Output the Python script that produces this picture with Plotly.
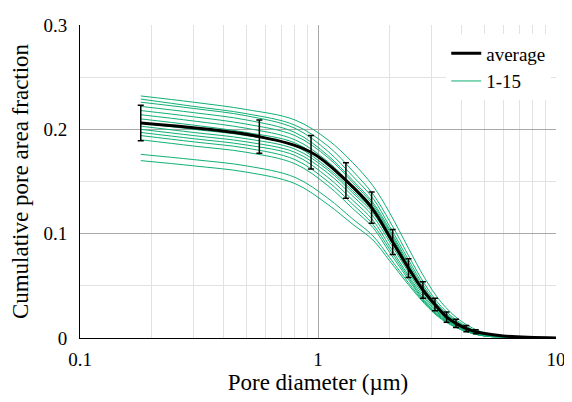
import plotly.graph_objects as go

# pore diameter grid for the 15 individual samples (um)
diam = [0.18, 0.3, 0.5, 0.8, 1.1, 1.4, 1.7, 2.0, 2.4, 2.8, 3.3, 4, 5, 7, 10]

samples = [
    [0.232, 0.226, 0.219, 0.209, 0.190, 0.168, 0.146, 0.120, 0.086, 0.058, 0.034, 0.016, 0.005, 0.001, 0],
    [0.229, 0.222, 0.215, 0.204, 0.184, 0.160, 0.138, 0.112, 0.079, 0.052, 0.030, 0.014, 0.004, 0.001, 0],
    [0.226, 0.220, 0.213, 0.201, 0.179, 0.155, 0.134, 0.107, 0.075, 0.049, 0.028, 0.013, 0.004, 0.001, 0],
    [0.222, 0.216, 0.209, 0.197, 0.175, 0.151, 0.130, 0.104, 0.072, 0.047, 0.027, 0.012, 0.003, 0.001, 0],
    [0.218, 0.212, 0.205, 0.194, 0.173, 0.149, 0.128, 0.102, 0.070, 0.045, 0.026, 0.012, 0.003, 0.001, 0],
    [0.214, 0.208, 0.201, 0.190, 0.169, 0.146, 0.126, 0.100, 0.069, 0.044, 0.025, 0.011, 0.003, 0.001, 0],
    [0.210, 0.204, 0.197, 0.187, 0.166, 0.143, 0.124, 0.098, 0.068, 0.044, 0.024, 0.011, 0.003, 0.001, 0],
    [0.206, 0.200, 0.194, 0.184, 0.163, 0.141, 0.122, 0.097, 0.067, 0.043, 0.024, 0.011, 0.003, 0.001, 0],
    [0.203, 0.197, 0.191, 0.181, 0.161, 0.139, 0.120, 0.095, 0.065, 0.042, 0.023, 0.010, 0.003, 0.001, 0],
    [0.200, 0.194, 0.188, 0.178, 0.158, 0.136, 0.117, 0.092, 0.063, 0.040, 0.022, 0.010, 0.003, 0.001, 0],
    [0.197, 0.191, 0.185, 0.175, 0.154, 0.132, 0.113, 0.088, 0.060, 0.038, 0.021, 0.009, 0.002, 0.001, 0],
    [0.194, 0.188, 0.182, 0.171, 0.150, 0.128, 0.109, 0.085, 0.058, 0.036, 0.020, 0.009, 0.002, 0.001, 0],
    [0.190, 0.184, 0.178, 0.167, 0.146, 0.124, 0.106, 0.082, 0.056, 0.035, 0.019, 0.008, 0.002, 0.001, 0],
    [0.176, 0.171, 0.165, 0.154, 0.134, 0.114, 0.098, 0.077, 0.053, 0.034, 0.019, 0.008, 0.002, 0.001, 0],
    [0.170, 0.165, 0.159, 0.148, 0.128, 0.109, 0.094, 0.074, 0.051, 0.033, 0.018, 0.008, 0.002, 0.001, 0],
]

# average curve with std error bars
avg_x = [0.18, 0.567, 0.935, 1.31, 1.68, 2.06, 2.4, 2.76, 3.1, 3.47, 3.8, 4.2, 4.6, 6, 10]
avg_y = [0.206, 0.193, 0.178, 0.151, 0.125, 0.092, 0.067, 0.046, 0.032, 0.020, 0.014, 0.009, 0.006, 0.002, 0]
avg_err = [0.017, 0.016, 0.016, 0.017, 0.015, 0.012, 0.009, 0.008, 0.006, 0.005, 0.004, 0.003, 0.002, 0, 0]

green = "#10b074"

fig = go.Figure()
for i, s in enumerate(samples):
    fig.add_trace(go.Scatter(x=diam, y=s, mode="lines", line=dict(color=green, width=1, shape="spline"),
                             name="1-15", showlegend=(i == 0), legendrank=2))
fig.add_trace(go.Scatter(x=avg_x, y=avg_y, mode="lines", name="average",
                         line=dict(color="black", width=3, shape="spline"),
                         error_y=dict(type="data", array=avg_err, color="black", thickness=1.5, width=3),
                         legendrank=1))

fig.update_layout(
    width=572, height=402,
    margin=dict(l=72, r=24, t=17, b=72),
    paper_bgcolor="white", plot_bgcolor="white",
    font=dict(family="Liberation Serif, DejaVu Serif, serif", size=19, color="black"),
    showlegend=True,
    legend=dict(x=0.99, y=0.97, xanchor="right", yanchor="top", bgcolor="white",
                font=dict(size=19), tracegroupgap=0),
    xaxis=dict(type="log", range=[-1, 1], automargin=False,
               title=dict(text="Pore diameter (µm)", standoff=4),
               tickvals=[0.1, 1, 10], ticktext=["0.1", "1", "10"],
               showgrid=True, gridcolor="#a8a8a8", gridwidth=1,
               minor=dict(showgrid=True, gridcolor="#e2e2e2", dtick="D1", ticks=""),
               showline=True, linecolor="black", mirror=False, ticks="", zeroline=False,
               ticklabelstandoff=4),
    yaxis=dict(range=[0, 0.3], automargin=False,
               tickvals=[0, 0.1, 0.2, 0.3], ticktext=["0", "0.1", "0.2", "0.3"],
               title=dict(text="Cumulative pore area fraction", standoff=8),
               showgrid=True, gridcolor="#a8a8a8",
               minor=dict(showgrid=True, gridcolor="#e2e2e2", dtick=0.05),
               showline=True, linecolor="black", ticks="", zeroline=False,
               ticklabelstandoff=8),
)
fig.write_html("out.html")
